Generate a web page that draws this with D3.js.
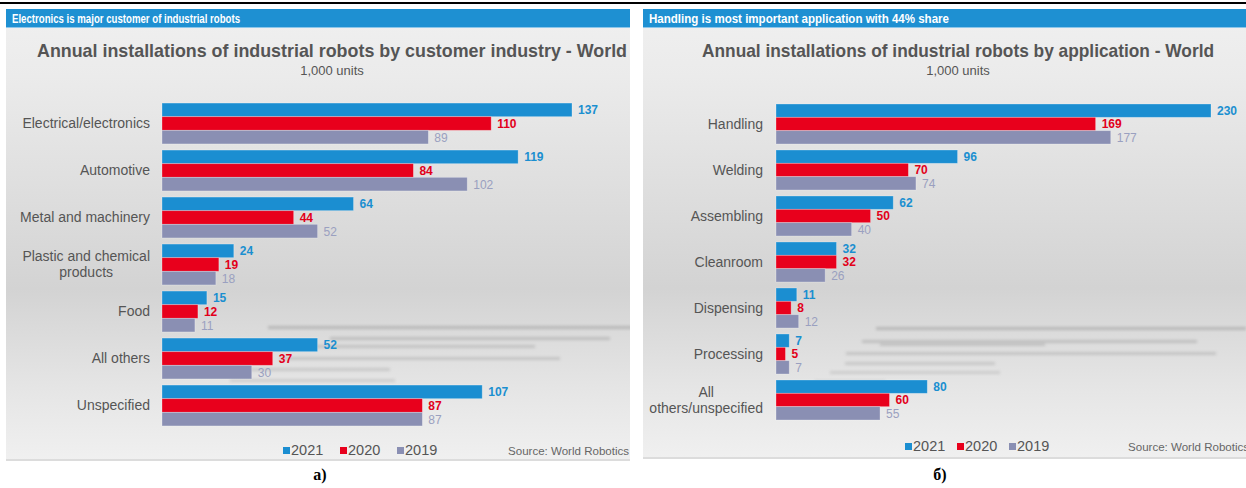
<!DOCTYPE html>
<html>
<head>
<meta charset="utf-8">
<script src="https://cdn.jsdelivr.net/npm/d3@7"></script>
<style>
  body { margin: 0; background: #fff; }
  text { font-family: "Liberation Sans", Arial, sans-serif; }
</style>
</head>
<body>
<svg id="chart"></svg>
<script>
// data
const years = ["2021", "2020", "2019"];

const industries = [
  "Electrical/electronics",
  "Automotive",
  "Metal and machinery",
  "Plastic and chemical\nproducts",
  "Food",
  "All others",
  "Unspecified",
];
const industry2021 = [137, 119, 64, 24, 15, 52, 107];
const industry2020 = [110, 84, 44, 19, 12, 37, 87];
const industry2019 = [89, 102, 52, 18, 11, 30, 87];

const applications = [
  "Handling",
  "Welding",
  "Assembling",
  "Cleanroom",
  "Dispensing",
  "Processing",
  "All\nothers/unspecified",
];
const application2021 = [230, 96, 62, 32, 11, 7, 80];
const application2020 = [169, 70, 50, 32, 8, 5, 60];
const application2019 = [177, 74, 40, 26, 12, 7, 55];

const barColors = ["#1b8ed1", "#e8001c", "#8a8fb3"];
const labelColors = ["#1a8fd0", "#e2001a", "#9aa0c0"];

const width = 1246;
const height = 488;

const svg = d3.select("#chart").attr("width", width).attr("height", height);
const defs = svg.append("defs");

// panel background gradient
const grad = defs
  .append("linearGradient")
  .attr("id", "panelBg")
  .attr("x1", 0).attr("y1", 0).attr("x2", 0).attr("y2", 1);
grad.append("stop").attr("offset", "0%").attr("stop-color", "#f0f0f0");
grad.append("stop").attr("offset", "15%").attr("stop-color", "#ebebeb");
grad.append("stop").attr("offset", "62%").attr("stop-color", "#d3d3d3");
grad.append("stop").attr("offset", "85%").attr("stop-color", "#e6e6e6");
grad.append("stop").attr("offset", "100%").attr("stop-color", "#f0f0f0");

defs
  .append("filter")
  .attr("id", "blur")
  .attr("x", "-10%").attr("y", "-200%").attr("width", "120%").attr("height", "500%")
  .append("feGaussianBlur")
  .attr("stdDeviation", 1.6);

// black rule on top
svg.append("rect").attr("x", 0).attr("y", 2).attr("width", width).attr("height", 2).attr("fill", "#000");

function drawPanel(cfg) {
  const clipId = "clip" + cfg.id;
  defs
    .append("clipPath")
    .attr("id", clipId)
    .append("rect")
    .attr("x", cfg.x0).attr("y", 9)
    .attr("width", cfg.x1 - cfg.x0).attr("height", cfg.bottom - 9);

  const g = svg.append("g").attr("clip-path", `url(#${clipId})`);

  g.append("rect")
    .attr("x", cfg.x0).attr("y", 9)
    .attr("width", cfg.x1 - cfg.x0).attr("height", cfg.bottom - 9)
    .attr("fill", "url(#panelBg)");
  g.append("rect")
    .attr("x", cfg.x0).attr("y", cfg.bottom - 2)
    .attr("width", cfg.x1 - cfg.x0).attr("height", 2)
    .attr("fill", "#dcdcdc");

  // blurry streaks in the background picture
  cfg.streaks.forEach(function (s) {
    g.append("rect")
      .attr("x", s[0]).attr("y", s[1])
      .attr("width", s[2]).attr("height", s[3])
      .attr("fill", "#9a9a9a")
      .attr("opacity", s[4])
      .attr("filter", "url(#blur)");
  });

  // header bar
  g.append("rect")
    .attr("x", cfg.x0).attr("y", 9)
    .attr("width", cfg.x1 - cfg.x0).attr("height", 19)
    .attr("fill", "#1e90d2");
  g.append("rect")
    .attr("x", cfg.x0).attr("y", 27)
    .attr("width", cfg.x1 - cfg.x0).attr("height", 1)
    .attr("fill", "#8cc6ea");
  g.append("text")
    .attr("x", cfg.x0 + 6).attr("y", 22.5)
    .attr("fill", "#fff")
    .style("font-size", "12.5px")
    .style("font-weight", "bold")
    .attr("textLength", cfg.headerW)
    .attr("lengthAdjust", "spacingAndGlyphs")
    .text(cfg.header);

  // titles
  g.append("text")
    .attr("x", cfg.titleX).attr("y", 57)
    .attr("text-anchor", "middle")
    .attr("fill", "#555")
    .style("font-size", "18.5px")
    .style("font-weight", "bold")
    .attr("textLength", cfg.titleW)
    .attr("lengthAdjust", "spacingAndGlyphs")
    .text(cfg.title);
  g.append("text")
    .attr("x", cfg.titleX).attr("y", 75)
    .attr("text-anchor", "middle")
    .attr("fill", "#555")
    .style("font-size", "13px")
    .text("1,000 units");

  // scales
  const y = d3.scaleBand().domain(cfg.cats).range(cfg.yRange).paddingInner(0.13).paddingOuter(0.065);
  const ySub = d3.scaleBand().domain(years).range([0, y.bandwidth()]);
  const x = d3.scaleLinear().domain([0, cfg.max]).range([cfg.barX, cfg.barEnd]);

  const series = cfg.series;

  const groups = g
    .selectAll(".grp")
    .data(cfg.cats)
    .enter()
    .append("g")
    .attr("class", "grp")
    .attr("transform", (d) => `translate(0, ${y(d)})`);

  groups.each(function (cat, i) {
    const grp = d3.select(this);
    years.forEach(function (yr, k) {
      const v = series[k][i];
      grp.append("rect")
        .attr("x", x(0))
        .attr("y", ySub(yr))
        .attr("width", x(v) - x(0))
        .attr("height", ySub.bandwidth())
        .attr("fill", barColors[k])
        .attr("stroke", "#ffffff")
        .attr("stroke-opacity", 0.35)
        .attr("stroke-width", 0.8);
      grp.append("text")
        .attr("x", x(v) + 6)
        .attr("y", ySub(yr) + ySub.bandwidth() / 2 + 4.5)
        .attr("fill", labelColors[k])
        .style("font-size", "12px")
        .style("font-weight", k < 2 ? "bold" : "normal")
        .text(v);
    });

    // category label, lines centred on each other, block right-aligned
    const lines = cat.split("\n");
    const lbl = grp.append("text")
      .attr("fill", "#555")
      .style("font-size", "14px")
      .attr("text-anchor", "middle");
    lines.forEach(function (ln, j) {
      lbl.append("tspan")
        .attr("y", y.bandwidth() / 2 + 5 + (j - (lines.length - 1) / 2) * 16)
        .text(ln);
    });
    let maxW = 0;
    lbl.selectAll("tspan").each(function () {
      maxW = Math.max(maxW, this.getComputedTextLength());
    });
    lbl.selectAll("tspan").attr("x", cfg.labelRight - maxW / 2);
  });

  // legend
  const legend = g.append("g").attr("transform", `translate(${cfg.legendX}, ${cfg.legendY})`);
  years.forEach(function (yr, k) {
    const lx = k * cfg.legendStep;
    legend.append("rect")
      .attr("x", lx).attr("y", -8)
      .attr("width", 7).attr("height", 7)
      .attr("fill", barColors[k]);
    legend.append("text")
      .attr("x", lx + 8).attr("y", 0)
      .attr("fill", "#555")
      .style("font-size", "14.5px")
      .text(yr);
  });

  g.append("text")
    .attr("x", cfg.sourceX).attr("y", cfg.legendY)
    .attr("fill", "#666")
    .style("font-size", "11.5px")
    .attr("textLength", 150)
    .attr("lengthAdjust", "spacingAndGlyphs")
    .text("Source: World Robotics 2022");

  // caption under the panel
  svg.append("text")
    .attr("x", cfg.captionX).attr("y", 480)
    .attr("text-anchor", "middle")
    .attr("fill", "#000")
    .style("font-family", "'Liberation Serif', 'Times New Roman', serif")
    .style("font-size", "16px")
    .style("font-weight", "bold")
    .text(cfg.caption);
}

drawPanel({
  id: "a",
  x0: 6, x1: 630, bottom: 461,
  header: "Electronics is major customer of industrial robots",
  headerW: 228,
  title: "Annual installations of industrial robots by customer industry - World",
  titleX: 332, titleW: 590,
  cats: industries,
  series: [industry2021, industry2020, industry2019],
  max: 137,
  barX: 162, barEnd: 572,
  yRange: [100, 429],
  labelRight: 150,
  legendX: 283, legendY: 455, legendStep: 57,
  sourceX: 508,
  caption: "а)", captionX: 320,
  streaks: [
    [268, 326, 370, 3, 0.55],
    [330, 337, 280, 3, 0.45],
    [300, 345, 235, 3, 0.4],
    [280, 357, 280, 3, 0.4],
    [240, 368, 150, 3, 0.35],
    [230, 379, 165, 3, 0.3],
  ],
});

drawPanel({
  id: "b",
  x0: 643, x1: 1246, bottom: 459,
  header: "Handling is most important application with 44% share",
  headerW: 300,
  title: "Annual installations of industrial robots by application - World",
  titleX: 958, titleW: 512,
  cats: applications,
  series: [application2021, application2020, application2019],
  max: 230,
  barX: 776, barEnd: 1211,
  yRange: [101, 423],
  labelRight: 763,
  legendX: 905, legendY: 451, legendStep: 52,
  sourceX: 1128,
  caption: "б)", captionX: 940,
  streaks: [
    [876, 327, 370, 3, 0.55],
    [862, 340, 335, 3, 0.45],
    [880, 343, 165, 3, 0.4],
    [846, 352, 370, 3, 0.4],
    [845, 362, 150, 3, 0.35],
    [830, 371, 170, 3, 0.3],
    [815, 380, 70, 3, 0.3],
  ],
});
</script>
</body>
</html>
